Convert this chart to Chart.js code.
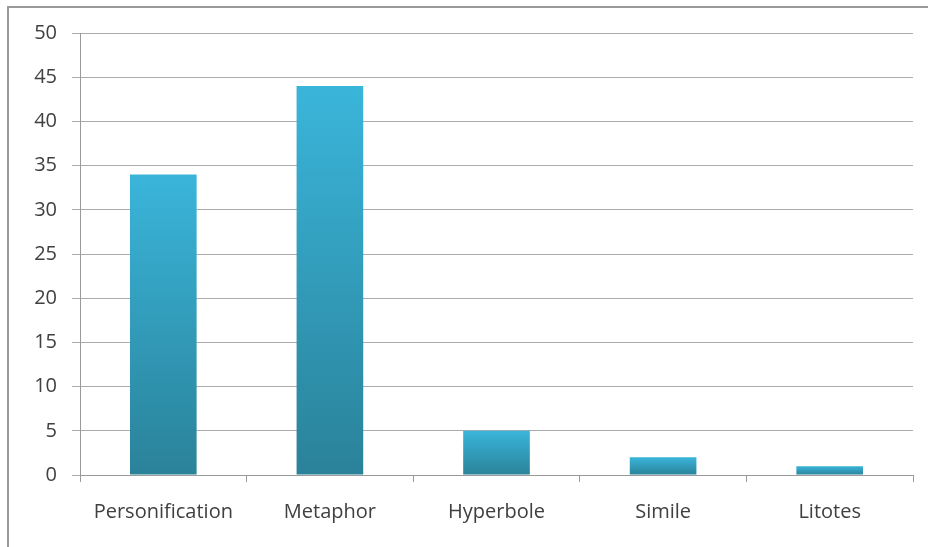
<!DOCTYPE html>
<html>
<head>
<meta charset="utf-8">
<script src="https://cdn.jsdelivr.net/npm/chart.js@4/dist/chart.umd.min.js"></script>
<style>
  html, body { margin: 0; padding: 0; background: #fff; }
  #wrap { position: relative; width: 928px; height: 547px; overflow: hidden; }
  #frame { position: absolute; left: 7px; top: 6px; width: 940px; height: 560px;
           border-left: 2px solid #9a9a9a; border-top: 2px solid #9a9a9a; box-sizing: border-box; }
  canvas { position: absolute; left: 0; top: 0; }
</style>
</head>
<body>
<div id="wrap">
  <div id="frame"></div>
  <canvas id="c" width="928" height="547"></canvas>
</div>
<script>
const categories = ["Personification", "Metaphor", "Hyperbole", "Simile", "Litotes"];
const values = [34, 44, 5, 2, 1];
const yTicks = { min: 0, max: 50, step: 5 };

function barFill(ctx) {
  const chart = ctx.chart;
  const area = chart.chartArea;
  if (!area || ctx.type !== 'data') return '#33a9cc';
  const y = chart.scales.y;
  const top = y.getPixelForValue(ctx.raw);
  const base = y.getPixelForValue(0);
  const g = chart.ctx.createLinearGradient(0, top, 0, base);
  g.addColorStop(0, '#3ab5da');
  g.addColorStop(1, '#2a8299');
  return g;
}

new Chart(document.getElementById('c'), {
  type: 'bar',
  data: {
    labels: categories,
    datasets: [{
      data: values,
      backgroundColor: barFill,
      borderWidth: 0,
      barPercentage: 0.4,
      categoryPercentage: 1.0
    }]
  },
  options: {
    responsive: false,
    animation: false,
    devicePixelRatio: 1,
    layout: { padding: { left: 0, right: 15, top: 33, bottom: 0 } },
    plugins: { legend: { display: false }, tooltip: { enabled: false } },
    scales: {
      x: {
        offset: true,
        grid: { offset: true, display: true, drawOnChartArea: false, color: '#9a9a9a', tickLength: 7, lineWidth: 1 },
        border: { color: '#9a9a9a', width: 1 },
        ticks: { color: '#404040', font: { family: 'Open Sans', size: 20 }, padding: 18, maxRotation: 0 },
        afterFit: s => { s.height = 72; }
      },
      y: {
        min: yTicks.min, max: yTicks.max,
        grid: { color: '#acacac', tickLength: 8, lineWidth: 1 },
        border: { color: '#9a9a9a', width: 1 },
        ticks: { stepSize: yTicks.step, color: '#404040', font: { family: 'Open Sans', size: 20 }, padding: 15 },
        afterFit: s => { s.width = 80; }
      }
    }
  }
});
</script>
</body>
</html>
